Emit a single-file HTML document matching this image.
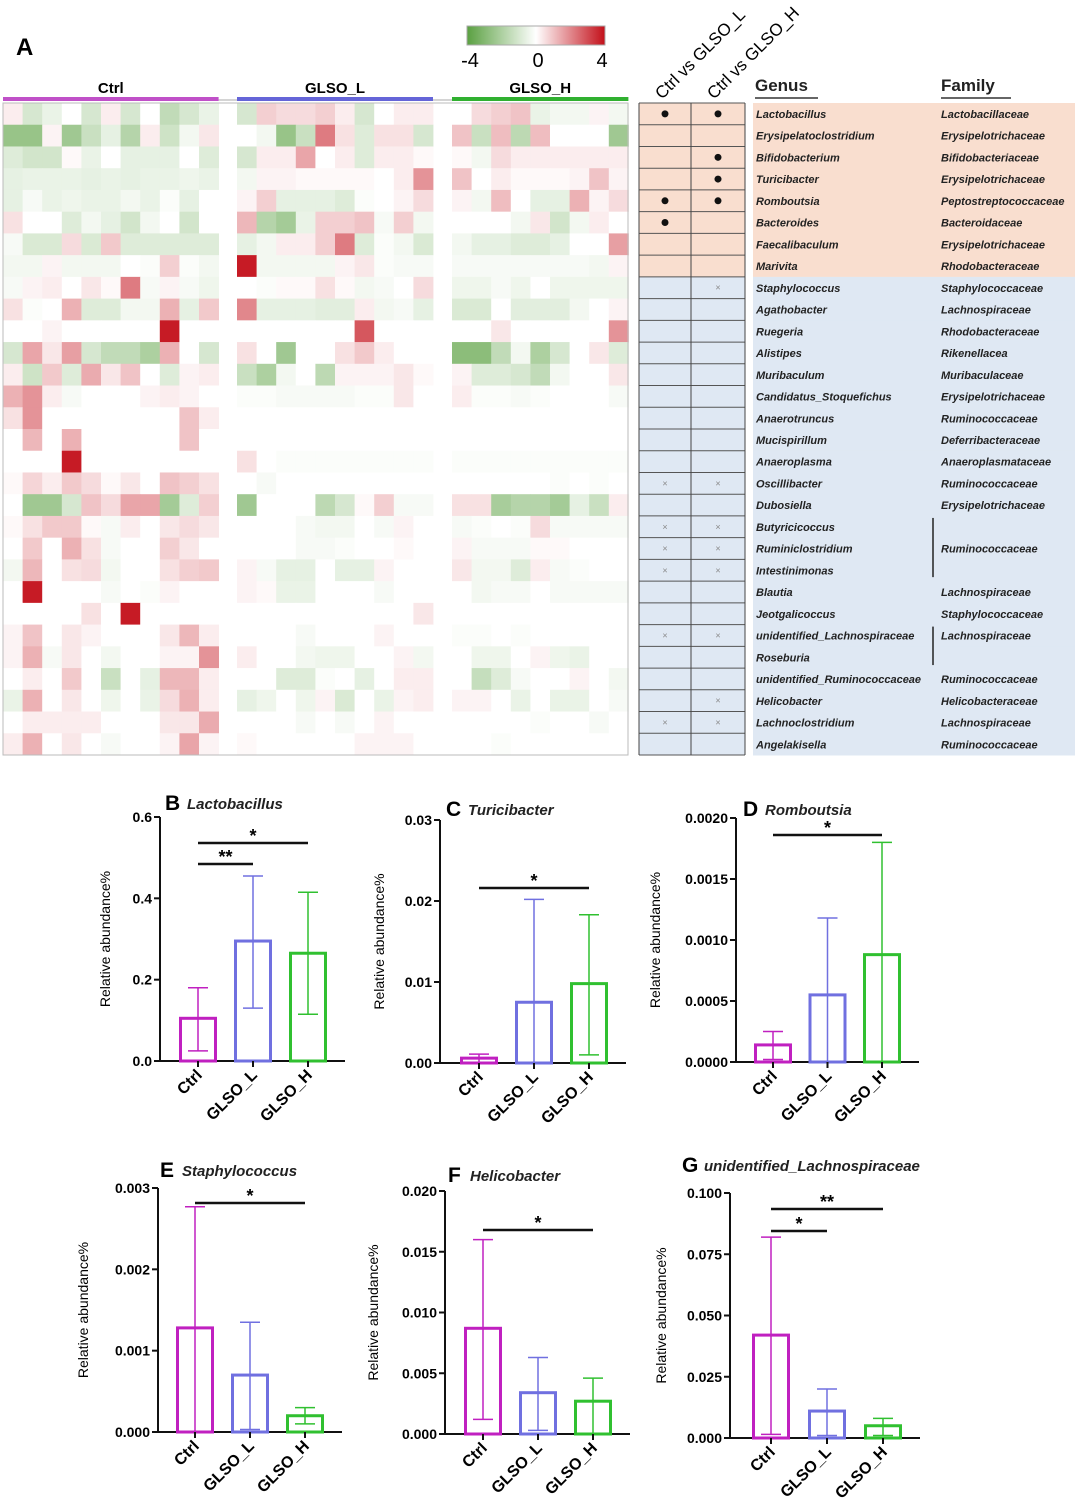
<!DOCTYPE html>
<html><head><meta charset="utf-8"><style>
html,body{margin:0;padding:0;background:#fff;}
svg{display:block;font-family:"Liberation Sans",sans-serif;}
</style></head><body>
<svg id="fig" width="1080" height="1507" viewBox="0 0 1080 1507" xmlns="http://www.w3.org/2000/svg">
<defs><linearGradient id="lg" x1="0" x2="1" y1="0" y2="0"><stop offset="0" stop-color="rgb(90,160,65)"/><stop offset="0.5" stop-color="#fff"/><stop offset="1" stop-color="rgb(195,15,25)"/></linearGradient></defs>
<text x="16" y="55" font-size="24" font-weight="bold">A</text>
<rect x="467" y="26" width="138" height="19" fill="url(#lg)" stroke="#aaa"/>
<text x="470" y="67" font-size="20" text-anchor="middle">-4</text>
<text x="538" y="67" font-size="20" text-anchor="middle">0</text>
<text x="602" y="67" font-size="20" text-anchor="middle">4</text>
<g id="heat"></g>
<g id="table"></g>
<g id="bars"></g>
</svg>
<script>
const groups=["Ctrl","GLSO_L","GLSO_H"];
const heatRows=[
[0.3,-1,-0.5,0,-1,0.3,-1,0,-1.5,-1,-0.5, -1,0.8,0.6,0.6,0.8,0.3,-1,0,0.3,0.3, 0,0.6,0.8,1,-0.5,-0.3,-0.3,0.2,-0.3],
[-2.5,-2.5,0.2,-2.3,-1.3,-0.6,-1.8,0.3,-1.2,-0.3,0.4, 0,-0.3,-2.5,-1.3,2.2,0.5,-0.8,0.5,0.5,-1, 1,-1.3,1.1,-1.6,1.1,0,0,0,-2.3],
[-0.8,-1.1,-1.1,0.1,-0.5,0,-0.6,-0.6,-0.6,0,-0.8, -1,0.3,0.3,1.5,0,0.3,-0.8,0.3,0.3,0.1, 0.1,-0.3,0.6,0.3,0.3,0.3,0.3,0.3,0.3],
[-0.6,-0.5,-0.5,-0.5,-0.6,-0.5,-0.6,-0.5,-0.5,-0.4,-0.5, -0.3,0.2,0.2,0.1,0.1,0.1,0.1,0,0.3,1.8, 1,0,0.3,0.1,0.1,0.1,0.2,1,0.2],
[-0.6,-0.2,-0.5,-0.4,-0.5,-0.5,-0.3,-0.5,-0.1,-0.6,0, 0.2,0.8,-0.6,-0.6,-0.6,-0.8,-0.1,0,0.2,0.6, 0.2,-0.3,1.1,0,-0.6,-0.6,1.3,0.2,0.6],
[0.5,0,0,-0.8,-0.3,-0.6,-1.1,-0.3,0,-1.1,0, 1.2,-1.8,-2.2,-0.5,0.8,0.8,1,-0.2,0.8,-0.3, 0,0,0,-0.3,0.4,-1.1,-0.3,0.3,0],
[-0.2,-0.9,-0.9,0.6,-0.9,0.9,-0.8,-0.8,-0.8,-0.8,-0.8, -0.6,-0.3,0.3,0.3,0.8,2.2,-0.8,-0.1,-0.3,-0.9, -0.3,-0.6,-0.6,-0.8,-0.8,-0.6,0,0,1.6],
[-0.3,-0.3,0.2,-0.3,-0.3,-0.3,0,-0.1,0.8,-0.1,-0.3, 3.8,-0.3,-0.3,-0.3,-0.3,0.2,0.4,-0.1,-0.2,-0.2, -0.2,-0.2,-0.2,-0.2,-0.2,-0.2,-0.2,-0.3,0.2],
[-0.2,0.2,0.3,0,0.4,0.1,2.2,-0.2,0.2,-0.2,-0.4, 0,-0.1,0.1,0.1,0.5,0.1,-0.3,-0.2,0,0.6, -0.4,-0.4,-0.2,-0.4,0,-0.4,-0.4,-0.4,-0.4],
[0.5,-0.1,0,1.3,-0.8,-0.8,-0.3,-0.3,1.3,-0.6,0.9, 2,-0.6,-0.6,-0.6,-0.7,-0.7,0.3,-0.3,-0.2,-0.6, -0.9,-0.9,0,-0.7,-0.7,-0.7,-0.3,0,0.2],
[0,0,0.2,0,0,0,0,0,3.8,0,0, 0,0,0,0,0,0,2.8,0,0,0, 0,0,0.4,0,0,0,0,0,1.8],
[-1,1.5,0.4,1.6,-1,-1.5,-1.5,-2,1.3,0,-1, 0.5,0,-2.3,0,0,0.5,0.9,0.3,0,0, -2.8,-2.8,-1.5,-0.3,-2,-1,0,0.4,-0.8],
[0.3,-1.2,0.9,-0.8,1.4,0.4,1,0,-0.8,0.2,0.3, -1.3,-2,-0.3,0,-1.6,0.2,0.2,0.2,0.4,0.1, 0.2,-0.8,-0.8,-1,-1.5,-0.3,0,0,0.4],
[1.3,1.8,0.3,-0.2,0,0,0,0.2,0.3,0.2,0, -0.1,-0.1,-0.2,-0.2,-0.2,-0.2,-0.1,-0.1,0.4,0, 0.3,-0.1,-0.1,-0.2,-0.1,0,0,0,-0.2],
[0.5,1.8,0,0,0,0,0,0,0,1,0.3, 0,0,0,0,0,0,0,0,0,0, 0,0,0,0,0,0,0,0,0],
[0,1.2,0,1.3,0,0,0,0,0,1,0, 0,0,0,0,0,0,0,0,0,0, 0,0,0,0,0,0,0,0,0],
[0,0,0,3.8,0,0,0,0,0,0,0, 0.5,0,-0.1,-0.1,-0.1,-0.1,-0.1,-0.1,-0.1,-0.1, -0.1,-0.1,-0.1,-0.1,-0.1,-0.1,-0.1,-0.1,-0.1],
[0.1,0.7,0.3,0.9,0.6,0.1,0.4,0,1,0.8,0.5, 0,-0.2,0,0,0,0,0,0,0,0, 0,0,0,0,0,-0.1,0,-0.1,0],
[0,-2.3,-2.3,-1,1,0.6,1.5,1.5,-2.2,-0.8,0.8, -2.3,0,0,0,-1.6,-1,0.1,0.8,-0.2,-0.2, 0.5,0.5,-2.1,-1.8,-1.8,-2.2,-0.6,-1.3,0.3],
[0.1,0.5,0.9,0.9,0.1,-0.2,0.3,0,0.4,0.6,0.4, 0,0,0,-0.2,-0.3,-0.3,0,-0.2,0.2,0, -0.2,-0.1,0,-0.1,0.6,-0.2,-0.2,-0.2,-0.2],
[0,0.9,0,1.3,0.5,-0.2,0,0,0.8,0.4,0, 0,0,0,-0.2,-0.2,-0.1,0,0,0.1,0, 0.2,-0.2,-0.2,-0.2,0.1,0.1,0,0,0],
[-0.3,1.2,0,0.5,0.6,-0.3,0,0,0.5,0.8,0.9, 0.2,-0.2,-0.6,-0.6,0,-0.6,-0.6,0.2,0,0, 0.4,-0.3,-0.3,-0.8,0.3,-0.2,-0.1,0,0],
[0,3.8,0,0,0,-0.2,0,-0.1,0.2,0,0, 0.2,0.1,-0.5,-0.5,0,0,0,-0.2,0,0, 0,-0.3,-0.2,-0.2,0,-0.2,-0.2,-0.2,-0.2],
[0,0,0,0,0.5,0,3.8,0,0,0,0, 0,0,0,0,0,0,0,0,0,0.4, 0,0,0,0,0,0,0,0,0],
[0.2,1,0,0.4,0.2,0,0,0,0.4,1.2,0.3, 0,0,0,-0.2,0,0,0,0.2,0,0, -0.1,-0.1,0,-0.1,0,0,0,0,0],
[0.2,1.3,-0.2,0.4,0,-0.3,0,0,0.2,0.2,1.8, 0.3,0,0,-0.3,-0.4,-0.4,0,0,0.2,-0.3, 0,-0.4,-0.4,0,0.2,-0.4,-0.5,0,0],
[0,0.3,0,0.9,0,-1.3,0,-0.6,1.2,1.2,0.3, 0,0,-0.8,-0.8,-0.1,0,-0.6,0,0.3,0.3, 0,-1.4,-0.8,-0.2,0,0,0.2,0,-0.3],
[-0.5,1.3,0,0.4,0,-0.4,0,-0.5,0.6,1.3,0.3, -0.6,-0.4,0,-0.4,0.2,-0.9,0,-0.5,0.2,0.3, 0.2,0.2,0,-0.5,0,-0.5,-0.5,0,-0.2],
[0,0.3,0.3,0.3,0.3,0,0,0,0.4,0.4,1.4, 0,0,0,-0.2,0,-0.2,0,0.2,0,0, 0,0,0,0,-0.1,0,0,-0.2,0],
[0.3,1.3,0,0.4,0,-0.2,0,0,0.2,1.5,0.2, 0.1,0,0,0,0,0,0.2,0.2,0.2,0, 0,0,-0.1,0,0,0,0,0,0]
];
const genera=["Lactobacillus","Erysipelatoclostridium","Bifidobacterium","Turicibacter","Romboutsia","Bacteroides","Faecalibaculum","Marivita","Staphylococcus","Agathobacter","Ruegeria","Alistipes","Muribaculum","Candidatus_Stoquefichus","Anaerotruncus","Mucispirillum","Anaeroplasma","Oscillibacter","Dubosiella","Butyricicoccus","Ruminiclostridium","Intestinimonas","Blautia","Jeotgalicoccus","unidentified_Lachnospiraceae","Roseburia","unidentified_Ruminococcaceae","Helicobacter","Lachnoclostridium","Angelakisella"];
const families=["Lactobacillaceae","Erysipelotrichaceae","Bifidobacteriaceae","Erysipelotrichaceae","Peptostreptococcaceae","Bacteroidaceae","Erysipelotrichaceae","Rhodobacteraceae","Staphylococcaceae","Lachnospiraceae","Rhodobacteraceae","Rikenellacea","Muribaculaceae","Erysipelotrichaceae","Ruminococcaceae","Deferribacteraceae","Anaeroplasmataceae","Ruminococcaceae","Erysipelotrichaceae","","Ruminococcaceae","","Lachnospiraceae","Staphylococcaceae","","Lachnospiraceae","Ruminococcaceae","Helicobacteraceae","Lachnospiraceae","Ruminococcaceae"];
const sigL=["d","","","","d","d","","","","","","","","","","","","x","","x","x","x","","","x","","","","x",""];
const sigH=["d","","d","d","d","","","","x","","","","","","","","","x","","x","x","x","","","x","","","x","x",""];

const NS="http://www.w3.org/2000/svg";
function mk(tag,attrs,parent,text){const e=document.createElementNS(NS,tag);for(const k in attrs)e.setAttribute(k,attrs[k]);if(text!==undefined)e.textContent=text;parent.appendChild(e);return e;}
function col(v){v=Math.max(-4,Math.min(4,v));let t=Math.abs(v)/4;
 const c=v<0?[90,160,65]:[195,15,25];
 return `rgb(${Math.round(255+(c[0]-255)*t)},${Math.round(255+(c[1]-255)*t)},${Math.round(255+(c[2]-255)*t)})`;}

const heat=document.getElementById('heat');
const gx=[3,237,452],gn=[11,10,9],cw=19.6,hTop=103,rh=(755-103)/30;
const gcol=["#c050c8","#6565d8","#30b030"];
mk('line',{x1:3,x2:628,y1:100,y2:100,stroke:"#aaa","stroke-width":1},heat);
groups.forEach((g,i)=>{
 const b=mk('rect',{x:gx[i],y:97,width:gn[i]*cw,height:4,fill:gcol[i]},heat);
 
 
 const t=mk('text',{x:gx[i]+gn[i]*cw/2,y:93,"font-size":15,"font-weight":"bold","text-anchor":"middle"},heat,g);
 
 
});
heatRows.forEach((row,r)=>{
 let c=0;
 for(let g=0;g<3;g++)for(let k=0;k<gn[g];k++){
  const cell=mk('rect',{x:gx[g]+k*cw,y:hTop+r*rh,width:cw+0.4,height:rh+0.4,fill:col(row[c])},heat);
  
  
  c++;
 }
});
mk('rect',{x:3,y:103,width:625,height:652,fill:"none",stroke:"#bbb","stroke-width":1},heat);

const tb=document.getElementById('table');
const t1=mk('text',{x:0,y:0,"font-size":17,transform:"translate(662,100) rotate(-45)"},tb,"Ctrl vs GLSO_L");


const t2=mk('text',{x:0,y:0,"font-size":17,transform:"translate(714,100) rotate(-45)"},tb,"Ctrl vs GLSO_H");


const h1=mk('text',{x:755,y:91,"font-size":17,"font-weight":"bold",fill:"#222"},tb,"Genus");


mk('line',{x1:755,x2:818,y1:98,y2:98,stroke:"#333","stroke-width":1.5},tb);
const h2=mk('text',{x:941,y:91,"font-size":17,"font-weight":"bold",fill:"#222"},tb,"Family");


mk('line',{x1:941,x2:1011,y1:98,y2:98,stroke:"#333","stroke-width":1.5},tb);
genera.forEach((g,r)=>{
 const y=hTop+r*rh, bg=r<8?"#f9decf":"#dfe8f3";
 mk('rect',{x:639,y:y,width:106,height:rh+0.5,fill:bg},tb);
 mk('rect',{x:753,y:y,width:322,height:rh+0.5,fill:bg},tb);
 const gt=mk('text',{x:756,y:y+15,"font-size":11,"font-style":"italic","font-weight":"bold",fill:"#222"},tb,g);
 
 
 if(families[r]){
  const yy=(r===25?y-7:y+15);
  const ft=mk('text',{x:941,y:yy,"font-size":11,"font-style":"italic","font-weight":"bold",fill:"#222"},tb,families[r]);
  
  
 }
 [[sigL[r],665],[sigH[r],718]].forEach(([s,x])=>{
  if(s==="d")mk('circle',{cx:x,cy:y+rh/2,r:3.5,fill:"#111"},tb);
  else if(s==="x")mk('text',{x:x,y:y+rh/2+3,"font-size":9,fill:"#888","text-anchor":"middle"},tb,"×");
 });
});
for(let r=0;r<=30;r++)mk('line',{x1:639,x2:745,y1:hTop+r*rh,y2:hTop+r*rh,stroke:"#555","stroke-width":1},tb);
[639,691,745].forEach(x=>mk('line',{x1:x,x2:x,y1:hTop,y2:755,stroke:"#444","stroke-width":1},tb));
mk('line',{x1:933,x2:933,y1:hTop+19*rh+2,y2:hTop+22*rh-4,stroke:"#222","stroke-width":1.5},tb);
mk('line',{x1:933,x2:933,y1:hTop+24*rh+2,y2:hTop+26*rh-3,stroke:"#222","stroke-width":1.5},tb);

const cats=["Ctrl","GLSO_L","GLSO_H"];
const bMean=[0.105,0.295,0.265], bLo=[0.025,0.13,0.115], bHi=[0.18,0.455,0.415], bTicks=["0.0","0.2","0.4","0.6"];
const cMean=[0.0006,0.0075,0.0098], cLo=[0.0001,0,0.001], cHi=[0.0011,0.0202,0.0183], cTicks=["0.00","0.01","0.02","0.03"];
const dMean=[0.00014,0.00055,0.00088], dLo=[0.00002,0,0], dHi=[0.00025,0.00118,0.0018], dTicks=["0.0000","0.0005","0.0010","0.0015","0.0020"];
const eMean=[0.00128,0.0007,0.0002], eLo=[0,0.00003,0.0001], eHi=[0.00277,0.00135,0.0003], eTicks=["0.000","0.001","0.002","0.003"];
const fMean=[0.0087,0.0034,0.0027], fLo=[0.0012,0.0003,0], fHi=[0.016,0.0063,0.0046], fTicks=["0.000","0.005","0.010","0.015","0.020"];
const gMean=[0.042,0.011,0.005], gLo=[0.0015,0.001,0.001], gHi=[0.082,0.02,0.008], gTicks=["0.000","0.025","0.050","0.075","0.100"];

const bars=document.getElementById('bars');
const colors=["#c020c0","#7070e0","#30c030"];
function chart(o){
 const g=mk('g',{},bars);
 
 
 const ymax=parseFloat(o.ticks[o.ticks.length-1]);
 const Y=v=>o.y0-(v/ymax)*(o.y0-o.yTop);
 const X=i=>o.bx+i*o.step;
 mk('line',{x1:o.ax,x2:o.ax,y1:o.yTop,y2:o.y0,stroke:"#111","stroke-width":2},g);
 mk('line',{x1:o.ax,x2:o.bx+2*o.step+56,y1:o.y0,y2:o.y0,stroke:"#111","stroke-width":2},g);
 o.ticks.forEach(t=>{const y=Y(parseFloat(t));
  mk('line',{x1:o.ax-6,x2:o.ax,y1:y,y2:y,stroke:"#111","stroke-width":2},g);
  const tl=mk('text',{x:o.ax-8,y:y+5,"font-size":14,"font-weight":"bold","text-anchor":"end"},g,t);
  
  
 });
 const yl=mk('text',{x:0,y:0,"font-size":14,"text-anchor":"middle",transform:`translate(${o.ylx},${(o.y0+o.yTop)/2}) rotate(-90)`},g,"Relative abundance%");
 
 
 const L=mk('text',{x:o.tx,y:o.ty,"font-size":21,"font-weight":"bold"},g,o.letter);
 
 
 const T=mk('text',{x:o.tx+22,y:o.ty-1,"font-size":15,"font-weight":"bold","font-style":"italic",fill:"#222"},g,o.title);
 
 
 cats.forEach((c,i)=>{
  const cx=X(i)+19;
  const bar=mk('rect',{x:X(i)+1.5,y:Y(o.mean[i]),width:35,height:o.y0-Y(o.mean[i]),fill:"none",stroke:colors[i],"stroke-width":3},g);
  
  
  mk('line',{x1:cx,x2:cx,y1:Y(o.hi[i]),y2:Y(o.lo[i]),stroke:colors[i],"stroke-width":1.5},g);
  mk('line',{x1:cx-10,x2:cx+10,y1:Y(o.hi[i]),y2:Y(o.hi[i]),stroke:colors[i],"stroke-width":1.5},g);
  mk('line',{x1:cx-10,x2:cx+10,y1:Y(o.lo[i]),y2:Y(o.lo[i]),stroke:colors[i],"stroke-width":1.5},g);
  mk('line',{x1:cx,x2:cx,y1:o.y0,y2:o.y0+6,stroke:"#111","stroke-width":2},g);
  const xl=mk('text',{x:0,y:0,"font-size":16,"font-weight":"bold","text-anchor":"end",transform:`translate(${cx+5},${o.y0+15}) rotate(-45)`},g,c);
  
  
 });
 o.sig.forEach(s=>{
  const x1=X(s[0])+19,x2=X(s[1])+19;
  mk('line',{x1:x1,x2:x2,y1:s[2],y2:s[2],stroke:"#111","stroke-width":2.5},g);
  const st=mk('text',{x:(x1+x2)/2,y:s[2]-1,"font-size":18,"font-weight":"bold","text-anchor":"middle"},g,s[3]);
  
  
 });
}
chart({letter:"B",title:"Lactobacillus",mean:bMean,lo:bLo,hi:bHi,ticks:bTicks,ax:160,y0:1061,yTop:817,bx:179,step:55,ylx:110,tx:165,ty:810,sig:[[0,1,864,"**"],[0,2,843,"*"]]});
chart({letter:"C",title:"Turicibacter",mean:cMean,lo:cLo,hi:cHi,ticks:cTicks,ax:440,y0:1063,yTop:820,bx:460,step:55,ylx:384,tx:446,ty:816,sig:[[0,2,888,"*"]]});
chart({letter:"D",title:"Romboutsia",mean:dMean,lo:dLo,hi:dHi,ticks:dTicks,ax:736,y0:1062,yTop:818,bx:754,step:54.5,ylx:660,tx:743,ty:816,sig:[[0,2,835,"*"]]});
chart({letter:"E",title:"Staphylococcus",mean:eMean,lo:eLo,hi:eHi,ticks:eTicks,ax:158,y0:1432,yTop:1188,bx:176,step:55,ylx:88,tx:160,ty:1177,sig:[[0,2,1203,"*"]]});
chart({letter:"F",title:"Helicobacter",mean:fMean,lo:fLo,hi:fHi,ticks:fTicks,ax:445,y0:1434,yTop:1191,bx:464,step:55,ylx:378,tx:448,ty:1182,sig:[[0,2,1230,"*"]]});
chart({letter:"G",title:"unidentified_Lachnospiraceae",mean:gMean,lo:gLo,hi:gHi,ticks:gTicks,ax:730,y0:1438,yTop:1193,bx:752,step:56,ylx:666,tx:682,ty:1172,sig:[[0,1,1231,"*"],[0,2,1209,"**"]]});
</script>
</body></html>
